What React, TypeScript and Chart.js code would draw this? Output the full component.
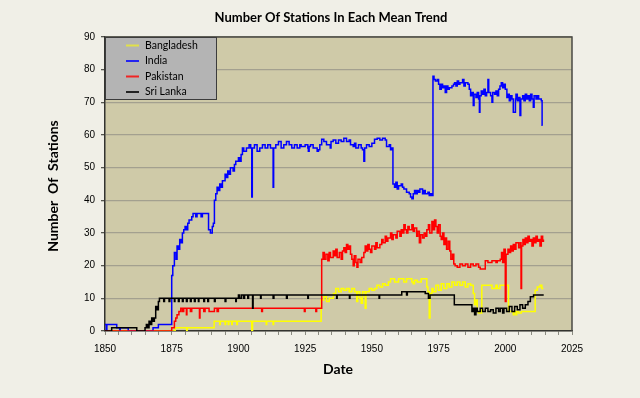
import React, { useEffect, useRef } from 'react';
import { Chart, registerables } from 'chart.js';

Chart.register(...registerables);

const chartTitle = 'Number Of Stations In Each Mean Trend';
const xAxisTitle = 'Date';
const yAxisTitle = 'Number  Of  Stations';
const seriesNames = ['Bangladesh', 'India', 'Pakistan', 'Sri Lanka'];
const seriesColors = ['#FFFF00', '#0000FF', '#FF0000', '#000000'];

// [year, number of stations]
const bangladesh: [number, number][] = [
  [1850, 0], [1876.3, 1], [1880.6, 0], [1880.8, 1], [1890.9, 3], [1893, 2], [1893.2, 3],
  [1895, 2], [1895.2, 3], [1896.2, 2], [1896.4, 3], [1897.5, 2], [1897.7, 3], [1899.4, 2],
  [1899.6, 3], [1905, 0], [1905.3, 3], [1910.4, 2], [1910.6, 3], [1913, 2], [1913.2, 3],
  [1931, 9.5], [1932, 10.5], [1933, 9], [1934, 10], [1935.6, 11.5], [1936.5, 13], [1937.5, 12],
  [1938.5, 13], [1939.5, 12.5], [1940.5, 13], [1941.5, 12], [1942.5, 13], [1943.5, 12],
  [1944.3, 9], [1944.7, 12], [1945.5, 10], [1946, 8.5], [1946.5, 12], [1947.5, 7], [1947.8, 12],
  [1949, 13], [1950, 12.5], [1951, 13], [1951.9, 14], [1953, 13.5], [1954, 14.5], [1955, 14],
  [1956.2, 15], [1957, 16], [1958.5, 15], [1960, 16], [1962, 15], [1963, 16], [1965, 15],
  [1965.5, 14.5], [1966, 15.5], [1967, 15], [1968.5, 16], [1970.6, 13.5], [1971, 12],
  [1971.5, 4], [1971.8, 11.5], [1972.5, 13], [1973, 12], [1974, 14], [1975, 12.5], [1976, 14.5],
  [1977, 13], [1978.1, 14.5], [1979, 13.5], [1980, 15], [1981, 14], [1982, 15], [1983, 14],
  [1984, 15], [1985, 13.5], [1986, 14.5], [1987, 14], [1988, 11.5], [1988.5, 8], [1989, 9.5],
  [1989.5, 6], [1990, 5.5], [1991.2, 14], [1995, 13], [1996.5, 14], [1997, 13], [1998, 14],
  [2001.2, 6], [2003, 5], [2003.3, 6], [2004, 5], [2004.3, 6], [2005, 5.5], [2006, 6],
  [2011.2, 12.5], [2012, 13.5], [2013, 14], [2013.7, 13], [2014.3, 13]
];

const india: [number, number][] = [
  [1850, 2], [1850.5, 0], [1850.7, 2], [1854.4, 1], [1855.5, 0], [1855.7, 1], [1858.7, 0],
  [1868, 1], [1870, 2], [1875, 17], [1875.4, 20], [1876, 24], [1876.6, 22], [1877, 26],
  [1877.5, 25], [1878, 28], [1878.5, 27], [1879, 30], [1879.5, 31], [1880, 32], [1880.5, 31],
  [1881, 33], [1881.5, 34], [1882, 34], [1882.5, 35], [1883, 36], [1884, 35], [1884.5, 36],
  [1885, 36], [1886, 35], [1886.5, 36], [1887, 36], [1888.8, 31], [1889.5, 30], [1890.2, 32],
  [1890.6, 33], [1891, 40], [1891.5, 42], [1892, 44], [1892.5, 43], [1893, 45], [1893.5, 44],
  [1894, 46], [1895, 48], [1895.5, 47], [1896, 49], [1896.5, 48], [1897, 50], [1898, 49],
  [1898.5, 51], [1899, 52], [1900, 53], [1900.5, 52], [1901, 54], [1901.5, 56], [1902, 55],
  [1903, 56], [1904, 57], [1904.6, 56], [1905, 41], [1905.2, 56], [1906, 57], [1907, 55],
  [1908, 56], [1909, 57], [1910, 56], [1911, 57], [1912, 56], [1913, 44], [1913.2, 56],
  [1914, 57], [1915, 58], [1916, 56], [1917, 57], [1918, 58], [1919, 57], [1920, 56],
  [1921, 57], [1922, 56], [1923, 57], [1923.5, 56.5], [1924, 56.5], [1925, 57], [1926, 56],
  [1926.2, 55], [1926.5, 56.5], [1927, 57], [1928, 56], [1929.5, 55], [1930, 55.5],
  [1930.5, 57], [1931.2, 58.7], [1932, 58], [1933, 57], [1934.4, 56], [1934.7, 58],
  [1935.5, 58.5], [1936.5, 57.5], [1937.5, 58.5], [1938.5, 58], [1939.5, 59], [1940.5, 58],
  [1941.5, 58.5], [1942, 57], [1943, 56.5], [1943.5, 57.5], [1944, 56], [1945, 57], [1946, 56],
  [1946.5, 55.5], [1947, 52], [1947.3, 56], [1948, 57], [1949, 56.5], [1950, 57.5],
  [1951, 58.7], [1952, 59], [1953, 58.5], [1954, 59], [1955, 58.5], [1955.5, 56.5],
  [1956.5, 57], [1957, 55.5], [1957.5, 56], [1957.9, 45], [1958.5, 44], [1959, 45.5],
  [1959.5, 43.5], [1960, 44.5], [1961, 45], [1961.5, 44], [1962, 43.5], [1963, 42.5],
  [1964, 42], [1964.5, 41], [1965, 40.5], [1965.5, 42], [1966, 43], [1966.5, 42], [1967, 43],
  [1967.5, 42.5], [1968, 43.5], [1969, 42], [1969.5, 43], [1970, 42], [1971, 42.5],
  [1971.5, 41.5], [1972, 42], [1972.5, 41.5], [1972.9, 78], [1973.3, 77], [1973.8, 76.5],
  [1974.5, 77], [1975, 75.5], [1975.5, 74], [1976, 75.5], [1976.5, 74.5], [1977, 75],
  [1977.5, 73], [1978, 75], [1978.5, 74], [1979, 74.5], [1980, 75], [1980.6, 75.5], [1981, 76],
  [1981.5, 75], [1982, 76.5], [1982.5, 75.5], [1983, 76], [1984, 77], [1984.5, 75], [1985, 76],
  [1986, 75.5], [1986.5, 74], [1987, 72], [1987.5, 73], [1988, 69], [1988.3, 72.5],
  [1989, 71.5], [1989.5, 73], [1990, 71], [1990.3, 67], [1990.5, 72], [1991, 73.5],
  [1991.5, 72.5], [1992, 74], [1992.5, 72], [1993, 73], [1993.5, 77], [1993.8, 73],
  [1994.5, 72], [1995, 70], [1995.3, 73], [1996, 72.5], [1996.5, 73.5], [1997, 72],
  [1997.5, 74], [1998, 75], [1998.5, 76], [1999, 74.5], [1999.5, 75.5], [2000, 74],
  [2000.6, 71.5], [2001, 72.5], [2001.5, 70.5], [2002, 72], [2002.5, 71], [2003, 67],
  [2003.8, 71], [2004, 72.5], [2004.5, 70.5], [2005, 71.5], [2005.5, 66], [2005.8, 71],
  [2006.5, 72], [2007, 70.5], [2007.5, 72.5], [2008, 71], [2008.5, 72], [2009, 70.5],
  [2009.5, 72.5], [2010, 71], [2010.5, 68.5], [2010.8, 72], [2011.5, 71], [2012, 72],
  [2012.5, 71], [2013, 71], [2013.5, 70.5], [2013.8, 63], [2014, 63]
];

const pakistan: [number, number][] = [
  [1850, 0], [1875, 1], [1876, 3], [1876.5, 4], [1877, 5], [1877.7, 6], [1878.4, 7],
  [1879, 6], [1879.5, 7], [1880.5, 5], [1880.7, 7], [1882, 6], [1882.5, 7], [1885.4, 4],
  [1885.6, 7], [1887, 6], [1887.5, 7], [1889, 6], [1891, 7], [1892, 6], [1892.5, 7],
  [1908.7, 6], [1909, 7], [1924.7, 6], [1925, 7], [1929, 6], [1929.3, 7], [1931.2, 22],
  [1931.7, 24], [1932.2, 22], [1932.8, 23.5], [1933.5, 21.5], [1934, 24], [1934.5, 22.5],
  [1935.5, 24.5], [1936, 23], [1936.5, 25], [1937, 22.5], [1937.8, 24], [1938.5, 22],
  [1939, 24.5], [1939.5, 25.5], [1940, 24], [1940.5, 26.5], [1941, 25], [1941.5, 26],
  [1942, 23.5], [1942.5, 22], [1943, 20], [1943.4, 23], [1944, 21], [1944.4, 19.5],
  [1944.8, 22], [1945.6, 21], [1946.2, 22.5], [1947, 24], [1947.5, 26], [1948, 24.5],
  [1948.5, 26.5], [1949, 25], [1949.5, 24], [1950, 26], [1951, 25], [1951.5, 27],
  [1952, 25.5], [1953, 26.5], [1953.7, 28], [1954.2, 27], [1955, 29], [1955.5, 27.5],
  [1956, 28.5], [1957, 30], [1957.5, 28], [1958, 29.5], [1959, 28.5], [1959.5, 30.5],
  [1960.5, 29], [1961, 31], [1961.5, 30], [1962, 32.5], [1962.5, 31], [1963, 30],
  [1963.5, 32], [1964, 31], [1965, 32.5], [1965.5, 30.5], [1966, 31.5], [1966.8, 29],
  [1967.2, 30.5], [1967.8, 27], [1968.3, 29.5], [1969, 28.5], [1969.6, 30], [1970.2, 29],
  [1970.6, 31], [1971.2, 32.5], [1971.7, 30], [1972.5, 33.5], [1973, 31], [1973.5, 34],
  [1974, 32], [1974.5, 30], [1975, 32.5], [1975.6, 29], [1976, 28], [1976.5, 30],
  [1977, 26.5], [1977.5, 28.5], [1978, 25], [1978.6, 27.5], [1979.2, 24.5], [1979.6, 22],
  [1980.2, 23.5], [1980.7, 20.5], [1981.2, 20], [1982, 19.5], [1983, 20.5], [1984, 20],
  [1985, 20.5], [1986, 19.5], [1987, 20.5], [1988, 20], [1989, 20.5], [1990, 19.5],
  [1990.6, 19], [1992.5, 21.5], [1993.5, 21], [1995, 21.5], [1996.5, 21], [1997, 21.5],
  [1998.1, 22], [1998.6, 24], [1999, 21], [1999.5, 25], [2000, 9], [2000.3, 23.5],
  [2001, 25], [2001.5, 24], [2002, 26], [2002.5, 24.5], [2003, 26.5], [2003.5, 25],
  [2004, 27], [2005, 25.5], [2005.6, 27], [2005.9, 13], [2006.1, 26], [2006.6, 28],
  [2007, 26.5], [2007.5, 28.5], [2008, 27], [2008.5, 29], [2009, 27.5], [2009.5, 28],
  [2010, 26], [2010.5, 28.5], [2011, 27], [2011.5, 29], [2012, 27.5], [2012.5, 28],
  [2013, 26], [2013.5, 29], [2014, 27.5], [2014.3, 28]
];

const sriLanka: [number, number][] = [
  [1850, 0], [1852.5, 1], [1861.9, 0], [1865, 1], [1865.5, 2], [1866, 1], [1866.5, 3],
  [1867, 2], [1867.5, 4], [1868, 3], [1868.5, 4], [1869, 7.5], [1869.5, 6.5], [1870, 9],
  [1870.4, 10], [1872, 9], [1872.3, 10], [1874, 9], [1874.3, 10], [1876, 9], [1876.2, 10],
  [1877.5, 9], [1877.8, 10], [1879, 9], [1879.3, 10], [1880.5, 9], [1880.8, 10], [1882, 9],
  [1882.3, 10], [1883.5, 9], [1883.8, 10], [1885, 9], [1885.2, 10], [1887, 9], [1887.3, 10],
  [1888.5, 9], [1888.8, 10], [1891, 9], [1891.3, 10], [1895, 9], [1895.3, 10], [1899, 9],
  [1899.2, 10], [1900, 11], [1900.5, 10], [1901.2, 11], [1902, 10], [1902.3, 11],
  [1903.5, 10], [1903.8, 11], [1905.3, 7], [1905.5, 11], [1908.3, 10], [1908.5, 11],
  [1913, 10], [1913.3, 11], [1918, 10], [1918.3, 11], [1926, 10], [1926.2, 11],
  [1936.8, 10], [1937, 11], [1941.6, 10], [1941.8, 11], [1952.7, 10], [1952.9, 11],
  [1961.2, 12], [1963, 11], [1963.3, 12], [1970, 11.5], [1971.2, 10], [1971.8, 11],
  [1973.1, 11], [1980.9, 8], [1987.5, 6], [1988, 7], [1988.5, 5], [1989, 7], [1989.5, 6],
  [1990.6, 7], [1991.5, 6], [1992.5, 7], [1993.5, 6], [1994.5, 6.5], [1995.5, 5.5],
  [1996.5, 7], [1997.5, 6], [1998.1, 7], [1999, 5.5], [1999.5, 7], [2000.5, 6], [2001.5, 7.5],
  [2002.5, 6], [2003.5, 7.5], [2004.5, 6.5], [2005.5, 8], [2006.5, 7], [2007.5, 8],
  [2008.5, 9], [2009.4, 10.5], [2010.6, 11], [2014.4, 11]
];

const xMin = 1850;
const xMax = 2025;
const xLabelStep = 25;
const xMinorStep = 5;
const yMin = 0;
const yMax = 90;
const yStep = 10;

const allSeries = [bangladesh, india, pakistan, sriLanka];

const FONT = "'Liberation Sans', 'DejaVu Sans', sans-serif";
const TITLE_FONT = "Lato, 'Open Sans', sans-serif";

const decorPlugin = {
  id: 'decor',
  beforeDraw(chart: any) {
    const { ctx, chartArea: a } = chart;
    ctx.save();
    ctx.fillStyle = '#F0EFE7';
    ctx.fillRect(0, 0, chart.width, chart.height);
    ctx.fillStyle = '#CFCAA8';
    ctx.fillRect(a.left, a.top, a.right - a.left, a.bottom - a.top);
    ctx.restore();
  },
  afterDraw(chart: any) {
    const { ctx, chartArea: a } = chart;
    ctx.save();
    // plot border (top & right)
    ctx.strokeStyle = '#4A4A44';
    ctx.lineWidth = 1.5;
    ctx.beginPath();
    ctx.moveTo(a.left, a.top);
    ctx.lineTo(a.right, a.top);
    ctx.lineTo(a.right, a.bottom);
    ctx.stroke();

    // titles
    ctx.fillStyle = '#000';
    ctx.textAlign = 'center';
    ctx.textBaseline = 'middle';
    ctx.font = `bold 13px ${TITLE_FONT}`;
    ctx.fillText(chartTitle, 331, 18);
    ctx.font = `bold 14px ${TITLE_FONT}`;
    ctx.fillText(xAxisTitle, 338, 369);
    ctx.save();
    ctx.translate(53, 186);
    ctx.rotate(-Math.PI / 2);
    ctx.fillText(yAxisTitle, 0, 0);
    ctx.restore();

    // legend box
    const lx = a.left, ly = a.top, lw = 111, lh = 62;
    ctx.fillStyle = '#B4B4B4';
    ctx.fillRect(lx, ly, lw, lh);
    ctx.strokeStyle = '#3C3C3C';
    ctx.lineWidth = 1;
    ctx.strokeRect(lx + 0.5, ly + 0.5, lw, lh);
    ctx.textAlign = 'left';
    ctx.font = `10.5px ${TITLE_FONT}`;
    seriesNames.forEach((name, i) => {
      const y = ly + 8.5 + i * 15.5;
      ctx.strokeStyle = seriesColors[i];
      ctx.globalAlpha = i === 0 ? 0.6 : 0.8;
      ctx.lineWidth = 2;
      ctx.beginPath();
      ctx.moveTo(lx + 21, y);
      ctx.lineTo(lx + 34, y);
      ctx.stroke();
      ctx.globalAlpha = 1;
      ctx.fillStyle = '#000';
      ctx.fillText(name, lx + 40, y);
    });
    ctx.restore();
  }
};

export default function App() {
  const canvasRef = useRef<HTMLCanvasElement | null>(null);

  useEffect(() => {
    const canvas = canvasRef.current;
    if (!canvas) return;
    const datasets = allSeries.map((series, i) => ({
      label: seriesNames[i],
      data: series.map(([x, y]) => ({ x, y })),
      borderColor: seriesColors[i],
      backgroundColor: seriesColors[i],
      borderWidth: 1.5,
      pointRadius: 0,
      stepped: true as const,
      fill: false,
      order: allSeries.length - i,
    }));

    const chart = new Chart(canvas, {
      type: 'line',
      data: { datasets },
      options: {
        responsive: false,
        animation: false,
        devicePixelRatio: 1,
        layout: { padding: { top: 37, right: 68, left: 0, bottom: 0 } },
        plugins: {
          legend: { display: false },
          title: { display: false },
          tooltip: { enabled: false },
        },
        scales: {
          x: {
            type: 'linear',
            min: xMin,
            max: xMax,
            afterFit: (scale: any) => { scale.height = 67; },
            afterBuildTicks: (scale: any) => {
              const ticks = [];
              for (let v = xMin; v <= xMax; v += xMinorStep) ticks.push({ value: v });
              scale.ticks = ticks;
            },
            ticks: {
              autoSkip: false,
              maxRotation: 0,
              padding: 8,
              color: '#000',
              font: { family: FONT, size: 10 },
              callback: (v: any) => (Number(v) % xLabelStep === 0 ? String(v) : ''),
            },
            grid: {
              drawOnChartArea: false,
              drawTicks: true,
              tickLength: 4,
              color: '#8A8A80',
            },
            border: { display: true, color: '#333330', width: 1.5 },
          },
          y: {
            type: 'linear',
            min: yMin,
            max: yMax,
            afterFit: (scale: any) => { scale.width = 105; },
            ticks: {
              stepSize: yStep,
              padding: 6,
              color: '#000',
              font: { family: FONT, size: 10 },
            },
            grid: {
              color: '#A3A08F',
              lineWidth: 1.3,
              drawTicks: true,
              tickLength: 4,
              tickColor: '#55554F',
            },
            border: { display: true, color: '#333330', width: 1.5 },
          },
        },
      },
      plugins: [decorPlugin],
    });
    return () => chart.destroy();
  }, []);

  return (
    <div style={{ position: 'absolute', left: 0, top: 0, width: 640, height: 398 }}>
      <canvas ref={canvasRef} width={640} height={398} />
    </div>
  );
}
